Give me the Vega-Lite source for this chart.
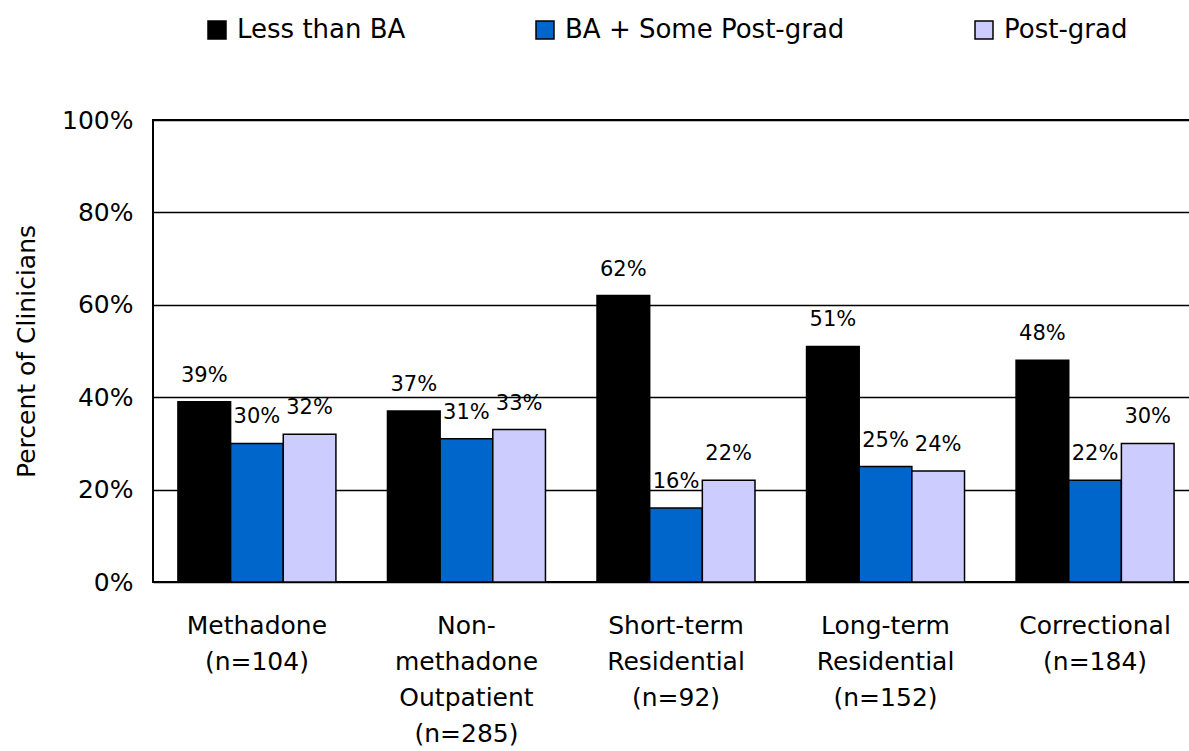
{
  "$schema": "https://vega.github.io/schema/vega-lite/v6.json",
  "width": 1046,
  "height": 462,
  "autosize": "none",
  "padding": {"left": 153, "top": 120, "right": -10, "bottom": 169},
  "background": "white",
  "data": {
    "values": [
      {"setting": "Methadone\n(n=104)", "level": "Less than BA", "value": 0.39},
      {"setting": "Methadone\n(n=104)", "level": "BA + Some Post-grad", "value": 0.30},
      {"setting": "Methadone\n(n=104)", "level": "Post-grad", "value": 0.32},
      {"setting": "Non-\nmethadone\nOutpatient\n(n=285)", "level": "Less than BA", "value": 0.37},
      {"setting": "Non-\nmethadone\nOutpatient\n(n=285)", "level": "BA + Some Post-grad", "value": 0.31},
      {"setting": "Non-\nmethadone\nOutpatient\n(n=285)", "level": "Post-grad", "value": 0.33},
      {"setting": "Short-term\nResidential\n(n=92)", "level": "Less than BA", "value": 0.62},
      {"setting": "Short-term\nResidential\n(n=92)", "level": "BA + Some Post-grad", "value": 0.16},
      {"setting": "Short-term\nResidential\n(n=92)", "level": "Post-grad", "value": 0.22},
      {"setting": "Long-term\nResidential\n(n=152)", "level": "Less than BA", "value": 0.51},
      {"setting": "Long-term\nResidential\n(n=152)", "level": "BA + Some Post-grad", "value": 0.25},
      {"setting": "Long-term\nResidential\n(n=152)", "level": "Post-grad", "value": 0.24},
      {"setting": "Correctional\n(n=184)", "level": "Less than BA", "value": 0.48},
      {"setting": "Correctional\n(n=184)", "level": "BA + Some Post-grad", "value": 0.22},
      {"setting": "Correctional\n(n=184)", "level": "Post-grad", "value": 0.30}
    ]
  },
  "encoding": {
    "x": {
      "field": "setting",
      "type": "nominal",
      "sort": null,
      "scale": {"paddingInner": 0.246, "paddingOuter": 0.119},
      "axis": {
        "title": null,
        "labelAngle": 0,
        "labelExpr": "split(datum.label, '\\n')",
        "labelFont": "DejaVu Sans",
        "labelFontSize": 25,
        "labelColor": "black",
        "labelLineHeight": 36,
        "labelPadding": 31,
        "labelBaseline": "top",
        "ticks": false,
        "domain": false,
        "grid": false
      }
    },
    "xOffset": {
      "field": "level",
      "type": "nominal",
      "sort": ["Less than BA", "BA + Some Post-grad", "Post-grad"],
      "scale": {"paddingInner": 0, "paddingOuter": 0}
    },
    "y": {
      "field": "value",
      "type": "quantitative",
      "scale": {"domain": [0, 1], "nice": false},
      "axis": {
        "title": "Percent of Clinicians",
        "titleFont": "DejaVu Sans",
        "titleFontSize": 25,
        "titleFontWeight": "normal",
        "titleColor": "black",
        "titlePadding": 22,
        "values": [0, 0.2, 0.4, 0.6, 0.8, 1],
        "format": ".0%",
        "labelFont": "DejaVu Sans",
        "labelFontSize": 25,
        "labelColor": "black",
        "labelPadding": 20,
        "ticks": false,
        "domain": false,
        "grid": true,
        "gridColor": "black",
        "gridWidth": 1.6,
        "gridOpacity": 1
      }
    }
  },
  "layer": [
    {
      "mark": {"type": "bar", "stroke": "black", "strokeWidth": 1.5},
      "encoding": {
        "color": {
          "field": "level",
          "type": "nominal",
          "sort": ["Less than BA", "BA + Some Post-grad", "Post-grad"],
          "scale": {
            "domain": ["Less than BA", "BA + Some Post-grad", "Post-grad"],
            "range": ["#000000", "#0066CC", "#CCCCFF"]
          },
          "legend": {
            "title": null,
            "orient": "none",
            "direction": "horizontal",
            "legendX": 51,
            "legendY": -103,
            "symbolType": "square",
            "symbolSize": 324,
            "symbolStrokeColor": "black",
            "symbolStrokeWidth": 1.5,
            "symbolOpacity": 1,
            "labelFont": "DejaVu Sans",
            "labelFontSize": 26,
            "labelColor": "black",
            "labelOffset": 7,
            "labelLimit": 500,
            "columnPadding": 126
          }
        }
      }
    },
    {
      "mark": {
        "type": "text",
        "font": "DejaVu Sans",
        "fontSize": 21,
        "color": "black",
        "baseline": "alphabetic",
        "align": "center",
        "dy": -20
      },
      "encoding": {
        "text": {"field": "value", "type": "quantitative", "format": ".0%"}
      }
    }
  ],
  "config": {
    "view": {"stroke": "black", "strokeWidth": 2}
  }
}
